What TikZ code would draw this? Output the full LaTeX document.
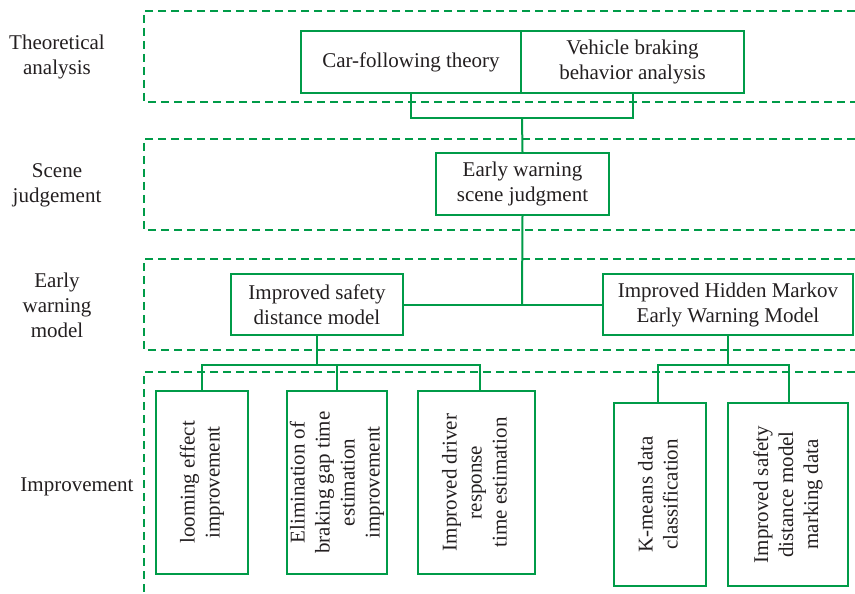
\documentclass[tikz,border=0pt]{standalone}
\usepackage{fontspec}
\setmainfont{Liberation Serif}
\definecolor{bgreen}{RGB}{0,155,72}
\definecolor{txt}{RGB}{35,31,32}
\newcommand{\vtext}[1]{\rotatebox{90}{\begin{tabular}{@{}c@{}}#1\end{tabular}}}
\begin{document}
\begin{tikzpicture}[x=1pt,y=-1pt,
  box/.style={draw=bgreen, line width=2pt, rectangle, inner sep=0pt, align=center, text=txt, font=\fontsize{21}{25}\selectfont},
  band/.style={draw=bgreen, line width=1.8pt, dash pattern=on 8pt off 5pt},
  conn/.style={draw=bgreen, line width=2pt},
  lab/.style={align=center, text=txt, font=\fontsize{21}{25}\selectfont}]
\useasboundingbox (0,0) rectangle (855,594);

% dashed bands
\draw[band] (855,11) -- (144,11) -- (144,102) -- (855,102);
\draw[band] (855,139) -- (144,139) -- (144,230) -- (855,230);
\draw[band] (855,259) -- (144,259) -- (144,350) -- (855,350);
\draw[band] (855,372) -- (144,372) -- (144,594);

% row labels
\node[lab] (l1) at (57,57) {Theoretical\\analysis};
\node[lab] (l2) at (57,185) {Scene\\judgement};
\node[lab] (l3) at (57,305) {Early\\warning\\model};
\node[lab] (l4) at (77,487) {Improvement};

% top boxes
\node[box, minimum width=220pt, minimum height=62pt] (cf) at (411,62) {Car-following theory};
\node[box, minimum width=223pt, minimum height=62pt] (vb) at (632.5,62) {Vehicle braking\\behavior analysis};

% scene box
\node[box, minimum width=173pt, minimum height=62pt] (sc) at (522.5,184) {Early warning\\scene judgment};

% model boxes
\node[box, minimum width=172pt, minimum height=61pt] (sd) at (317,304.5) {Improved safety\\distance model};
\node[box, minimum width=250pt, minimum height=61pt] (hm) at (728,304.5) {Improved Hidden Markov\\Early Warning Model};

% improvement boxes
\node[box, minimum width=92pt, minimum height=183pt] (b1) at (202,482.5) {\vtext{looming effect\\improvement}};
\node[box, minimum width=100pt, minimum height=183pt] (b2) at (337,482.5) {\vtext{Elimination of\\braking gap time\\estimation\\improvement}};
\node[box, minimum width=117pt, minimum height=183pt] (b3) at (476.5,482.5) {\vtext{Improved driver\\response\\time estimation}};
\node[box, minimum width=92pt, minimum height=183pt] (b4) at (660,494.5) {\vtext{K-means data\\classification}};
\node[box, minimum width=120pt, minimum height=183pt] (b5) at (788,494.5) {\vtext{Improved safety\\distance model\\marking data}};

% connectors
\coordinate (j0) at (522,118);
\draw[conn] (cf.south) |- (j0);
\draw[conn] (vb.south) |- (j0);
\draw[conn] (j0) -- (sc.north);
\coordinate (j1) at (522,304.5);
\draw[conn] (sc.south) -- (j1);
\draw[conn] (sd.east) -- (hm.west);

\coordinate (j2) at (317,365);
\draw[conn] (sd.south) -- (j2);
\draw[conn] (b1.north) |- (j2);
\draw[conn] (b2.north) |- (j2);
\draw[conn] ([xshift=3.5pt]b3.north) |- (j2);

\coordinate (j3) at (728,365);
\draw[conn] (hm.south) -- (j3);
\draw[conn] ([xshift=-2pt]b4.north) |- (j3);
\draw[conn] ([xshift=1pt]b5.north) |- (j3);
\end{tikzpicture}
\end{document}
